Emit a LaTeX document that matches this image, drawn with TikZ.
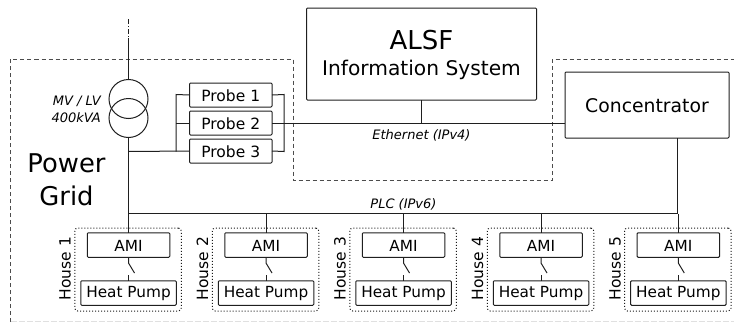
\documentclass[tikz,border=0pt]{standalone}
\usepackage{fontspec}
\setmainfont{DejaVu Sans}
\newcommand{\fsz}[1]{\fontsize{#1pt}{#1pt}\selectfont}
\tikzset{
  wire/.style={line width=1pt,draw=black!88},
  boxn/.style={draw=black!88,line width=1pt,rounded corners=1pt,inner sep=0pt,outer sep=0pt,align=center},
  probebox/.style={boxn,minimum width=82.5pt,minimum height=24pt,font=\fsz{15.5},text height=13pt,text depth=0pt},
  amibox/.style={boxn,minimum width=82.5pt,minimum height=24.5pt,font=\fsz{15.3},text height=12pt,text depth=0pt},
  hpbox/.style={boxn,minimum width=95.5pt,minimum height=24.5pt,font=\fsz{15.3},text height=8pt,text depth=0pt},
  housebox/.style={draw=black!90,line width=1pt,dotted,rounded corners=3pt,minimum width=106.5pt,minimum height=83pt,inner sep=0pt,outer sep=0pt},
  zone/.style={draw=black!70,line width=1pt,dash pattern=on 4pt off 3pt},
  coil/.style={circle,draw=black!88,line width=1pt,minimum size=39pt,inner sep=0pt,outer sep=0pt},
  lab/.style={font=\fsz{13}\itshape,inner sep=0pt},
}
\begin{document}
\begin{tikzpicture}[x=1pt,y=-1pt]
\useasboundingbox (0,0) rectangle (734,322);
% zones
\draw[zone] (10.5,322) -- (10.5,59) -- (293,59) -- (293,180) -- (552,180) -- (552,59) -- (734,59);
\draw[draw=black!12,line width=0.8pt,dash pattern=on 6pt off 2pt] (10.5,321.5) -- (734,321.5);
% coordinates
\coordinate (top) at (128.5,19);
\coordinate (topb) at (128.5,38);
\coordinate (tap) at (128.5,151.5);
\coordinate (busL1) at (176,94.5);
\coordinate (busL2) at (176,123);
\coordinate (busL3) at (176,151.5);
\coordinate (busR1) at (284,94.5);
\coordinate (busR3) at (284,151.5);
\coordinate (plcL) at (128.5,213.5);
\coordinate (plcR) at (677,213.5);
% transformer
\node[coil] (t1) at (128.5,99) {};
\node[coil] (t2) at (128.5,118) {};
\draw[wire,dash pattern=on 5pt off 2pt on 1pt off 2pt] (top) -- (topb);
\draw[wire] (topb) -- (t1.north);
\node[lab,anchor=base east] (mv) at (101,105) {MV / LV};
\node[lab,anchor=base east] (kva) at (101,122) {400kVA};
% probes
\node[probebox] (p1) at (230.75,95) {Probe 1};
\node[probebox] (p2) at (230.75,123) {Probe 2};
\node[probebox] (p3) at (230.75,151) {Probe 3};
% servers
\node[boxn,minimum width=230pt,minimum height=92pt] (alsf) at (421.5,54) {};
\node[inner sep=0pt,font=\fsz{26},anchor=base] (alsft) at (421.5,49) {ALSF};
\node[inner sep=0pt,font=\fsz{20.2},anchor=base] (alsfi) at (421.5,75.5) {Information System};
\node[boxn,minimum width=164pt,minimum height=66pt,font=\fsz{18.8},text height=15.4pt,text depth=0pt] (conc) at (647,105) {Concentrator};
% power grid label
\node[inner sep=0pt,font=\fsz{25.8},anchor=base] (pg1) at (66.5,172) {Power};
\node[inner sep=0pt,font=\fsz{25.8},anchor=base] (pg2) at (66.5,205) {Grid};
% wires
\draw[wire] (t2.south) -- (tap) -- (plcL);
\draw[wire] (tap) -- (p3.west);
\draw[wire] (busL3) -- (busL1) -- (p1.west);
\draw[wire] (busL2) -- (p2.west);
\draw[wire] (p1.east) -- (busR1) -- (busR3) -- (p3.east);
\draw[wire] (p2.east) -- (conc.west |- p2.east);
\draw[wire] (alsf.south) -- (alsf.south |- p2.east);
\node[lab,anchor=base] (eth) at (421.5,139.3) {Ethernet (IPv4)};
\node[lab,anchor=base] (plc) at (403.5,208.3) {PLC (IPv6)};
\draw[wire] (plcL) -- (plcR);
\draw[wire] (plcR |- conc.south) -- (plcR);
% houses
\foreach \i/\cx/\hlab in {1/128.5/House 1,2/266/House 2,3/403.5/House 3,4/541/House 4,5/678.3/House 5}{
  \node[housebox] (h\i) at (\cx-0.5,269.5) {};
  \node[amibox] (a\i) at (\cx,245) {AMI};
  \node[hpbox] (hp\i) at (\cx,293) {Heat Pump};
  \node[rotate=90,inner sep=0pt,font=\fsz{15.5},anchor=base] (hl\i) at (\cx-57.8,268.5) {\hlab};
  \coordinate (s\i a) at (\cx,263);
  \coordinate (s\i b) at (\cx+6,273);
  \coordinate (s\i c) at (\cx,275);
  \draw[wire] (a\i.south) -- (s\i a) -- (s\i b);
  \draw[wire] (s\i c) -- (hp\i.north);
  \draw[wire] (a\i.north) -- (a\i.north |- plcL);
}
\end{tikzpicture}
\end{document}
